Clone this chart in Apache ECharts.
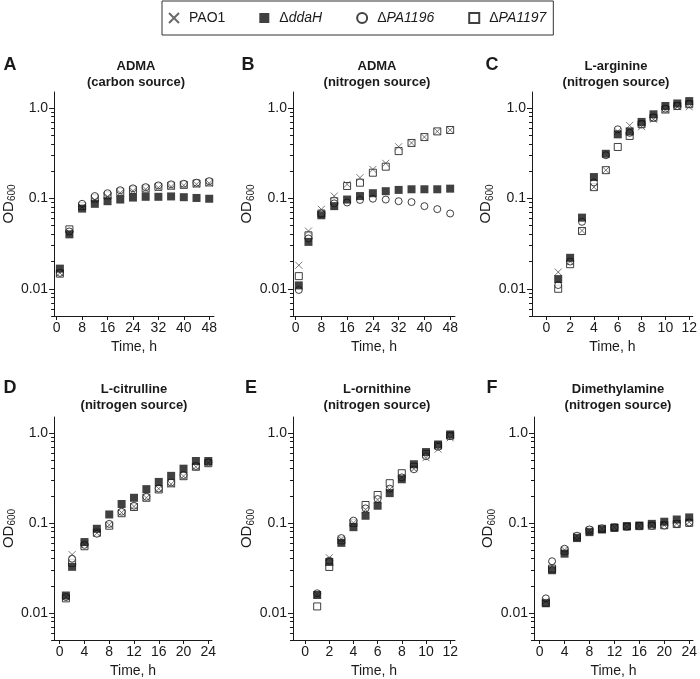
<!DOCTYPE html>
<html><head><meta charset="utf-8">
<script src="https://cdn.jsdelivr.net/npm/echarts@6/dist/echarts.min.js"></script>
<style>html,body{margin:0;padding:0;background:#fff}#c{width:700px;height:679px}</style>
</head><body><div id="c"></div>
<script>
// ---------------- data ----------------
const strains = ['PAO1', 'ΔddaH', 'ΔPA1196', 'ΔPA1197'];
const panelLetters = ['A', 'B', 'C', 'D', 'E', 'F'];
const panelTitles = ['ADMA\n(carbon source)', 'ADMA\n(nitrogen source)', 'L-arginine\n(nitrogen source)',
  'L-citrulline\n(nitrogen source)', 'L-ornithine\n(nitrogen source)', 'Dimethylamine\n(nitrogen source)'];

const xTicks48 = [0, 8, 16, 24, 32, 40, 48];
const xTicks12 = [0, 2, 4, 6, 8, 10, 12];
const xTicks24 = [0, 4, 8, 12, 16, 20, 24];
const yMajorTicks = [0.01, 0.1, 1];
const yMinorTicks = [0.005, 0.006, 0.007, 0.008, 0.009, 0.02, 0.03, 0.04, 0.05, 0.06, 0.07, 0.08, 0.09,
  0.2, 0.3, 0.4, 0.5, 0.6, 0.7, 0.8, 0.9];

const time48 = [1, 4, 8, 12, 16, 20, 24, 28, 32, 36, 40, 44, 48];
const time12 = [1, 2, 3, 4, 5, 6, 7, 8, 9, 10, 11, 12];
const time24 = [1, 2, 4, 6, 8, 10, 12, 14, 16, 18, 20, 22, 24];

// A: ADMA carbon source
const A_PAO1   = [0.015, 0.042, 0.080, 0.096, 0.105, 0.115, 0.121, 0.126, 0.131, 0.135, 0.139, 0.143, 0.147];
const A_ddaH   = [0.0167, 0.040, 0.077, 0.087, 0.093, 0.097, 0.102, 0.104, 0.104, 0.105, 0.103, 0.101, 0.099];
const A_PA1196 = [0.015, 0.043, 0.087, 0.106, 0.114, 0.123, 0.129, 0.133, 0.139, 0.143, 0.145, 0.149, 0.155];
const A_PA1197 = [0.0147, 0.0454, 0.082, 0.100, 0.108, 0.118, 0.124, 0.128, 0.134, 0.138, 0.141, 0.146, 0.150];
// B: ADMA nitrogen source
const B_PAO1   = [0.0182, 0.0435, 0.0756, 0.106, 0.143, 0.169, 0.209, 0.244, 0.372, 0.41, 0.476, 0.55, 0.57];
const B_ddaH   = [0.0109, 0.033, 0.065, 0.082, 0.097, 0.106, 0.114, 0.120, 0.124, 0.126, 0.126, 0.126, 0.128];
const B_PA1196 = [0.0097, 0.036, 0.068, 0.088, 0.090, 0.096, 0.099, 0.097, 0.093, 0.091, 0.082, 0.076, 0.068];
const B_PA1197 = [0.0138, 0.039, 0.068, 0.093, 0.137, 0.149, 0.192, 0.224, 0.333, 0.41, 0.476, 0.55, 0.57];
// C: L-arginine
const C_PAO1   = [0.0153, 0.020, 0.044, 0.133, 0.205, 0.55, 0.64, 0.62, 0.75, 0.95, 1.03, 1.03];
const C_ddaH   = [0.0128, 0.022, 0.0612, 0.172, 0.311, 0.51, 0.55, 0.70, 0.85, 1.05, 1.12, 1.19];
const C_PA1196 = [0.011, 0.020, 0.055, 0.15, 0.30, 0.58, 0.53, 0.66, 0.78, 0.98, 1.05, 1.10];
const C_PA1197 = [0.0100, 0.0187, 0.0435, 0.133, 0.205, 0.37, 0.49, 0.66, 0.78, 0.96, 1.05, 1.10];
// D: L-citrulline
const D_PAO1   = [0.015, 0.0444, 0.058, 0.077, 0.095, 0.13, 0.152, 0.19, 0.24, 0.27, 0.33, 0.42, 0.464];
const D_ddaH   = [0.0156, 0.0325, 0.0612, 0.086, 0.124, 0.162, 0.19, 0.237, 0.285, 0.333, 0.40, 0.487, 0.487];
const D_PA1196 = [0.015, 0.040, 0.057, 0.0757, 0.0975, 0.133, 0.155, 0.195, 0.241, 0.281, 0.34, 0.428, 0.47];
const D_PA1197 = [0.0145, 0.036, 0.055, 0.078, 0.093, 0.128, 0.15, 0.19, 0.235, 0.275, 0.33, 0.42, 0.46];
// E: L-ornithine
const E_PAO1   = [0.016, 0.041, 0.066, 0.10, 0.14, 0.18, 0.235, 0.32, 0.40, 0.53, 0.66, 0.88];
const E_ddaH   = [0.0158, 0.0368, 0.060, 0.0896, 0.120, 0.155, 0.214, 0.305, 0.448, 0.612, 0.743, 0.96];
const E_PA1196 = [0.0165, 0.038, 0.0678, 0.106, 0.145, 0.184, 0.24, 0.32, 0.394, 0.55, 0.70, 0.92];
const E_PA1197 = [0.0118, 0.0324, 0.064, 0.10, 0.158, 0.204, 0.276, 0.356, 0.42, 0.58, 0.72, 0.93];
// F: Dimethylamine
const F_PAO1   = [0.0135, 0.0333, 0.050, 0.071, 0.082, 0.086, 0.089, 0.091, 0.092, 0.093, 0.094, 0.098, 0.102];
const F_ddaH   = [0.0128, 0.0298, 0.0455, 0.0678, 0.0789, 0.0844, 0.088, 0.092, 0.0935, 0.0975, 0.103, 0.109, 0.115];
const F_PA1196 = [0.0145, 0.0375, 0.0516, 0.072, 0.0845, 0.087, 0.089, 0.091, 0.092, 0.093, 0.0935, 0.0975, 0.101];
const F_PA1197 = [0.013, 0.031, 0.049, 0.070, 0.082, 0.086, 0.089, 0.091, 0.092, 0.093, 0.094, 0.097, 0.100];

// ---------------- layout / style ----------------
const panels = [
  { t: time48, ticks: xTicks48, xmin: -0.8, xmax: 49.5, vals: [A_PAO1, A_ddaH, A_PA1196, A_PA1197] },
  { t: time48, ticks: xTicks48, xmin: -0.8, xmax: 49.5, vals: [B_PAO1, B_ddaH, B_PA1196, B_PA1197] },
  { t: time12, ticks: xTicks12, xmin: -1.2, xmax: 12.3, vals: [C_PAO1, C_ddaH, C_PA1196, C_PA1197] },
  { t: time24, ticks: xTicks24, xmin: -0.9, xmax: 24.6, vals: [D_PAO1, D_ddaH, D_PA1196, D_PA1197] },
  { t: time12, ticks: xTicks12, xmin: -1.0, xmax: 12.4, vals: [E_PAO1, E_ddaH, E_PA1196, E_PA1197] },
  { t: time24, ticks: xTicks24, xmin: -0.9, xmax: 24.6, vals: [F_PAO1, F_ddaH, F_PA1196, F_PA1197] }
];
const gridLeft = [52, 293, 532, 50, 293, 534];
const gridTop = [92, 92, 92, 417, 417, 417];
const gridW = 162, gridH = 224;
const letterPos = [[10, 65], [248, 65], [492, 65], [10, 388], [251, 388], [492, 388]];
const titleY = [58, 58, 58, 381, 381, 381];

const FONT = 'Liberation Sans, Arial, sans-serif';
const INK = '#1a1a1a';

const symbolStyles = [
  { symbol: 'path://M0,0L10,10M10,0L0,10', symbolSize: 7, itemStyle: { color: 'rgba(0,0,0,0)', borderColor: '#444', borderWidth: 0.9 }, z: 3 },
  { symbol: 'rect', symbolSize: 8, itemStyle: { color: '#111', borderColor: '#111', borderWidth: 0 }, z: 4 },
  { symbol: 'circle', symbolSize: 7, itemStyle: { color: '#fff', borderColor: '#111', borderWidth: 1 }, z: 2 },
  { symbol: 'rect', symbolSize: 7, itemStyle: { color: '#fff', borderColor: '#111', borderWidth: 1 }, z: 1 }
];

const grid = [], xAxis = [], yAxis = [], series = [], graphic = [];
panels.forEach((p, i) => {
  grid.push({ left: gridLeft[i], top: gridTop[i], width: gridW, height: gridH, containLabel: false });
  xAxis.push({
    type: 'value', gridIndex: i, min: p.xmin, max: p.xmax, position: 'bottom',
    splitLine: { show: false },
    axisLine: { onZero: false, lineStyle: { color: INK, width: 1 } },
    axisTick: { customValues: p.ticks, length: 4, lineStyle: { color: INK } },
    axisLabel: { customValues: p.ticks, color: INK, fontSize: 14, fontFamily: FONT, margin: 5 },
    name: 'Time, h', nameLocation: 'middle', nameGap: 24,
    nameTextStyle: { color: INK, fontSize: 14, fontFamily: FONT }
  });
  yAxis.push({
    type: 'log', logBase: 10, gridIndex: i, min: 0.005, max: 1.5, position: 'left',
    splitLine: { show: false },
    axisLine: { onZero: false, lineStyle: { color: INK, width: 1 } },
    axisTick: { customValues: yMajorTicks, length: 5, lineStyle: { color: INK } },
    axisLabel: { customValues: yMajorTicks, color: INK, fontSize: 14, fontFamily: FONT, margin: 6,
      formatter: v => (Math.abs(v - 1) < 1e-9 ? '1.0' : (Math.abs(v - 0.1) < 1e-9 ? '0.1' : '0.01')) },
    name: '{a|OD}{b|600}', nameLocation: 'middle', nameGap: 25, nameRotate: 90,
    nameTextStyle: { color: INK, fontFamily: FONT,
      rich: { a: { fontSize: 15, color: INK, fontFamily: FONT }, b: { fontSize: 10, color: INK, fontFamily: FONT, padding: [7, 0, 0, 0] } } }
  });
  yAxis.push({
    type: 'log', logBase: 10, gridIndex: i, min: 0.005, max: 1.5, position: 'left', offset: 0,
    splitLine: { show: false },
    axisLine: { show: false, onZero: false },
    axisTick: { customValues: yMinorTicks, length: 3, lineStyle: { color: INK } },
    axisLabel: { show: false }
  });
  strains.forEach((s, k) => {
    series.push(Object.assign({
      type: 'scatter', name: s, xAxisIndex: i, yAxisIndex: 2 * i,
      data: p.t.map((tt, j) => [tt, p.vals[k][j]]),
      emphasis: { disabled: true }, animation: false
    }, JSON.parse(JSON.stringify(symbolStyles[k]))));
  });
  graphic.push({ type: 'text', x: letterPos[i][0], y: letterPos[i][1],
    style: { text: panelLetters[i], font: 'bold 18px ' + FONT, fill: INK, textAlign: 'center', textVerticalAlign: 'middle' } });
  graphic.push({ type: 'text', x: gridLeft[i] + gridW / 2 + 3, y: titleY[i],
    style: { text: panelTitles[i], font: 'bold 13px ' + FONT, fill: INK, textAlign: 'center', textVerticalAlign: 'top', lineHeight: 16 } });
});

const chart = echarts.init(document.getElementById('c'), null, { renderer: 'canvas' });
chart.setOption({
  animation: false,
  backgroundColor: '#fff',
  grid, xAxis, yAxis, series, graphic,
  legend: {
    data: strains, left: 162, top: 1, orient: 'horizontal',
    itemGap: 34, itemWidth: 10, itemHeight: 10,
    padding: [10, 7, 10, 6],
    borderColor: '#333', borderWidth: 1,
    textStyle: { color: INK, fontSize: 14, fontFamily: FONT,
      rich: { p: { fontSize: 14, fontFamily: FONT, color: INK, padding: [0, 0, 0, 5] },
              n: { fontSize: 14, fontFamily: FONT, color: INK, padding: [0, 0, 0, 5] },
              i: { fontSize: 14, fontFamily: FONT, fontStyle: 'italic', color: INK } } },
    formatter: name => name === 'PAO1' ? '{p|PAO1}' : '{n|Δ}{i|' + name.slice(1) + '}'
  }
});
</script></body></html>
